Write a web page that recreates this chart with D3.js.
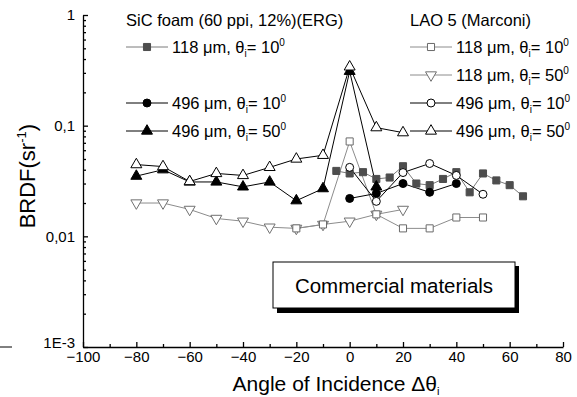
<!DOCTYPE html>
<html>
<head>
<meta charset="utf-8">
<script src="https://cdn.jsdelivr.net/npm/d3@7/dist/d3.min.js"></script>
<style>
  body { margin: 0; background: #fff; }
  svg { display: block; font-family: Arial, "Liberation Sans", sans-serif; }
</style>
</head>
<body>
<div class="chart"></div>
<script>
// SiC foam (60 ppi, 12%)(ERG)
const sic118a10X = [-5, 0, 5, 10, 15, 20, 25, 30, 35, 40, 45, 50, 55, 60, 65];
const sic118a10Y = [0.039, 0.037, 0.038, 0.033, 0.034, 0.043, 0.030, 0.029, 0.033, 0.038, 0.025, 0.037, 0.032, 0.029, 0.023];
const sic496a10X = [0, 10, 20, 30, 40];
const sic496a10Y = [0.022, 0.0244, 0.030, 0.025, 0.030];
const sic496a50X = [-80, -70, -60, -50, -40, -30, -20, -10, 0, 10];
const sic496a50Y = [0.035, 0.040, 0.031, 0.031, 0.028, 0.031, 0.021, 0.027, 0.31, 0.028];

// LAO 5 (Marconi)
const lao118a10X = [-20, -10, 0, 10, 20, 30, 40, 50];
const lao118a10Y = [0.0118, 0.0128, 0.072, 0.0158, 0.0118, 0.0118, 0.0148, 0.0148];
const lao118a50X = [-80, -70, -60, -50, -40, -30, -20, -10, 0, 10, 20];
const lao118a50Y = [0.020, 0.020, 0.0175, 0.0145, 0.0137, 0.0121, 0.0118, 0.0128, 0.0137, 0.0158, 0.0175];
const lao496a10X = [0, 10, 20, 30, 40, 50];
const lao496a10Y = [0.042, 0.0207, 0.0377, 0.0455, 0.0355, 0.024];
const lao496a50X = [-80, -70, -60, -50, -40, -30, -20, -10, 0, 10, 20];
const lao496a50Y = [0.0445, 0.0427, 0.0313, 0.037, 0.0355, 0.042, 0.050, 0.054, 0.34, 0.096, 0.0865];

const xTicks = [-100, -80, -60, -40, -20, 0, 20, 40, 60, 80];
const xMinorTicks = [-90, -70, -50, -30, -10, 10, 30, 50, 70];
const yTicks = [0.001, 0.01, 0.1, 1];
const yTickLabels = ['1E-3', '0,01', '0,1', '1'];

const w = 577;
const h = 397;

const x = d3.scaleLinear().domain([-100, 80]).range([83, 563]);
const y = d3.scaleLog().domain([0.001, 1]).range([347, 15]);

const svg = d3.select('.chart')
  .append('svg')
  .attr('width', w)
  .attr('height', h);

// axes (ticks point inward)
svg.append('g')
  .attr('transform', `translate(0, ${y(0.001)})`)
  .call(d3.axisBottom(x).tickValues(xTicks).tickSizeInner(-5).tickSizeOuter(0).tickPadding(4));
svg.append('g')
  .attr('transform', `translate(0, ${y(0.001)})`)
  .call(d3.axisBottom(x).tickValues(xMinorTicks).tickSizeInner(-3).tickSizeOuter(0).tickFormat(''))
  .call(g => g.select('.domain').remove());

const yMinor = [];
[0.001, 0.01, 0.1].forEach(d => { for (let k = 2; k <= 9; k++) yMinor.push(d * k); });

svg.append('g')
  .attr('transform', `translate(${x(-100)}, 0)`)
  .call(d3.axisLeft(y).tickValues(yTicks).tickSizeInner(-5).tickSizeOuter(0).tickPadding(8)
    .tickFormat((d, i) => yTickLabels[i]))
  .call(g => g.selectAll('.tick text').filter(d => d === 0.001).attr('dy', '0.05em'));
svg.append('g')
  .attr('transform', `translate(${x(-100)}, 0)`)
  .call(d3.axisLeft(y).tickValues(yMinor).tickSizeInner(-3).tickSizeOuter(0).tickFormat(''))
  .call(g => g.select('.domain').remove());

svg.selectAll('.tick text').attr('font-size', 15).attr('fill', '#000')
  .attr('font-family', 'Arial, "Liberation Sans", sans-serif');
svg.selectAll('.domain, .tick line').attr('stroke', '#000').attr('stroke-width', 1.3);

// stray fragment at left edge of the figure
svg.append('line').attr('x1', 0).attr('x2', 12).attr('y1', y(0.001)).attr('y2', y(0.001))
  .attr('stroke', '#000');

// axis titles
const yt = svg.append('text')
  .attr('transform', `translate(35, ${y(0.035)}) rotate(-90)`)
  .attr('text-anchor', 'middle')
  .attr('font-size', 22);
yt.append('tspan').text('BRDF(sr');
yt.append('tspan').attr('font-size', 13).attr('dy', -9).text('-1');
yt.append('tspan').attr('dy', 9).text(')');

const xt = svg.append('text')
  .attr('x', 336)
  .attr('y', 391)
  .attr('text-anchor', 'middle')
  .attr('font-size', 21);
xt.append('tspan').text('Angle of Incidence \u0394\u03b8');
xt.append('tspan').attr('font-size', 11).attr('dy', 4).text('i');

// marker shapes
const sq = d3.symbol().type(d3.symbolSquare).size(50)();
const circ = d3.symbol().type(d3.symbolCircle).size(50)();
const tri = d3.symbol().type(d3.symbolTriangle).size(52)();

const series = [
  { xs: sic118a10X, ys: sic118a10Y, line: '#7a7a7a', shape: sq, fill: '#4d4d4d', stroke: '#4d4d4d', rot: 0 },
  { xs: lao118a50X, ys: lao118a50Y, line: '#8c8c8c', shape: tri, fill: '#fff', stroke: '#707070', rot: 180 },
  { xs: lao118a10X, ys: lao118a10Y, line: '#8c8c8c', shape: sq, fill: '#fff', stroke: '#6a6a6a', rot: 0 },
  { xs: sic496a50X, ys: sic496a50Y, line: '#000', shape: tri, fill: '#000', stroke: '#000', rot: 0 },
  { xs: sic496a10X, ys: sic496a10Y, line: '#000', shape: circ, fill: '#000', stroke: '#000', rot: 0 },
  { xs: lao496a10X, ys: lao496a10Y, line: '#000', shape: circ, fill: '#fff', stroke: '#000', rot: 0 },
  { xs: lao496a50X, ys: lao496a50Y, line: '#000', shape: tri, fill: '#fff', stroke: '#000', rot: 0 }
];

const line = d3.line().x(d => x(d[0])).y(d => y(d[1]));

series.forEach(s => {
  const pts = s.xs.map((v, i) => [v, s.ys[i]]);
  svg.append('path')
    .datum(pts)
    .attr('fill', 'none')
    .attr('stroke', s.line)
    .attr('stroke-width', 1)
    .attr('d', line);
});
series.forEach(s => {
  const pts = s.xs.map((v, i) => [v, s.ys[i]]);
  svg.append('g')
    .selectAll('path')
    .data(pts)
    .enter()
    .append('path')
    .attr('d', s.shape)
    .attr('fill', s.fill)
    .attr('stroke', s.stroke)
    .attr('stroke-width', 1)
    .attr('transform', d => `translate(${x(d[0])}, ${y(d[1])}) rotate(${s.rot})`);
});

// legends
function legendRow(x0, yRow, s, size, theta) {
  svg.append('line')
    .attr('x1', x0).attr('x2', x0 + 42)
    .attr('y1', yRow).attr('y2', yRow)
    .attr('stroke', s.line);
  svg.append('path')
    .attr('d', s.shape)
    .attr('fill', s.fill)
    .attr('stroke', s.stroke)
    .attr('transform', `translate(${x0 + 21}, ${yRow}) rotate(${s.rot})`);
  const t = svg.append('text')
    .attr('x', x0 + 46)
    .attr('y', yRow + 6)
    .attr('font-size', 16.5);
  t.append('tspan').text(`${size} \u03bcm, \u03b8`);
  t.append('tspan').attr('font-size', 10).attr('dy', 4).text('i');
  t.append('tspan').attr('dy', -4).text(`= ${theta}`);
  t.append('tspan').attr('font-size', 10).attr('dy', -7).text('0');
}

svg.append('text').attr('x', 126).attr('y', 26).attr('font-size', 16.5).text('SiC foam (60 ppi, 12%)(ERG)');
legendRow(126, 47, series[0], 118, 10);
legendRow(126, 103, series[4], 496, 10);
legendRow(126, 131, series[3], 496, 50);

svg.append('text').attr('x', 410).attr('y', 26).attr('font-size', 16.5).text('LAO 5 (Marconi)');
legendRow(410, 47, series[2], 118, 10);
legendRow(410, 75, series[1], 118, 50);
legendRow(410, 103, series[5], 496, 10);
legendRow(410, 131, series[6], 496, 50);

// "Commercial materials" box with drop shadow
svg.append('rect').attr('x', 277).attr('y', 266).attr('width', 242).attr('height', 47).attr('fill', '#000');
svg.append('rect').attr('x', 273).attr('y', 262).attr('width', 242).attr('height', 46)
  .attr('fill', '#fff').attr('stroke', '#000').attr('stroke-width', 1);
svg.append('text').attr('x', 394).attr('y', 293).attr('text-anchor', 'middle')
  .attr('font-size', 20.5).text('Commercial materials');
</script>
</body>
</html>
